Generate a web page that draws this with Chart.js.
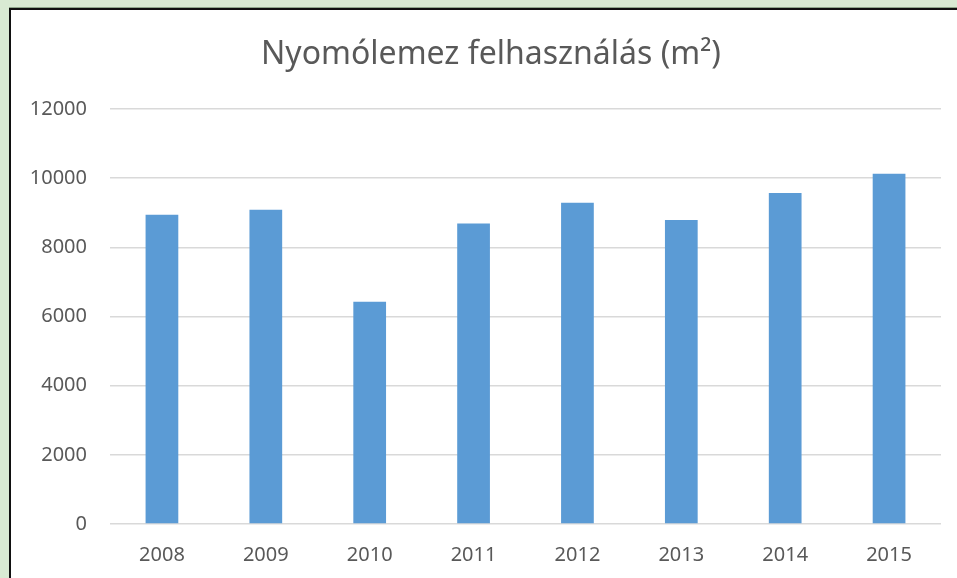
<!DOCTYPE html>
<html>
<head>
<meta charset="utf-8">
<script src="https://cdn.jsdelivr.net/npm/chart.js@4/dist/chart.umd.min.js"></script>
<style>
    html, body { margin: 0; padding: 0; width: 957px; height: 578px; overflow: hidden; background: #d9ead3; }
    #frame { position: absolute; left: 9px; top: 8px; width: 960px; height: 580px;
             border-left: 2px solid #111; border-top: 2px solid #111; background: #fff;
             box-shadow: 0 -1px 0 #8fa78b; }
    #chart { position: absolute; left: 0; top: 1px; }
</style>
</head>
<body>
<div id="frame"><canvas id="chart" width="960" height="567"></canvas></div>
<script>
/* chart data */
const years  = ["2008", "2009", "2010", "2011", "2012", "2013", "2014", "2015"];
const usage  = [8940, 9090, 6430, 8690, 9290, 8790, 9570, 10130];
const yTicks = [0, 2000, 4000, 6000, 8000, 10000, 12000];

const txtColor = "#595959";
const fontName = "'Noto Sans', 'Open Sans', sans-serif";

const ctx = document.getElementById("chart").getContext("2d");
new Chart(ctx, {
    type: "bar",
    data: {
        labels: years,
        datasets: [{
            label: "Nyomólemez felhasználás (m²)",
            data: usage,
            backgroundColor: "#5b9bd5",
            borderWidth: 0,
            barPercentage: 0.315,
            categoryPercentage: 1.0
        }]
    },
    options: {
        responsive: false,
        animation: false,
        layout: { padding: 0 },
        plugins: {
            legend: { display: false },
            tooltip: { enabled: false },
            title: {
                display: true,
                text: "Nyomólemez felhasználás (m²)",
                color: txtColor,
                font: { family: fontName, size: 32, weight: "normal" },
                padding: { top: 25, bottom: 34.6 }
            }
        },
        scales: {
            x: {
                grid: { display: false, drawTicks: false },
                border: { display: false },
                ticks: {
                    color: txtColor,
                    font: { family: fontName, size: 20 },
                    padding: 19,
                    maxRotation: 0
                },
                afterFit: (s) => { s.height = 54; }
            },
            y: {
                min: 0,
                max: 12000,
                afterBuildTicks: (s) => { s.ticks = yTicks.map(v => ({ value: v })); },
                grid: { color: "#d9d9d9", lineWidth: 1.5, drawTicks: false },
                border: { display: false },
                ticks: {
                    color: txtColor,
                    font: { family: fontName, size: 20 },
                    padding: 23,
                    callback: (v) => String(v)
                },
                afterFit: (s) => { s.width = 99; }
            },
            // empty right-hand space so the title stays centred on the full frame
            yRight: {
                position: "right",
                grid: { display: false, drawTicks: false },
                border: { display: false },
                ticks: { display: false },
                afterFit: (s) => { s.width = 30; }
            }
        }
    }
});
</script>
</body>
</html>
